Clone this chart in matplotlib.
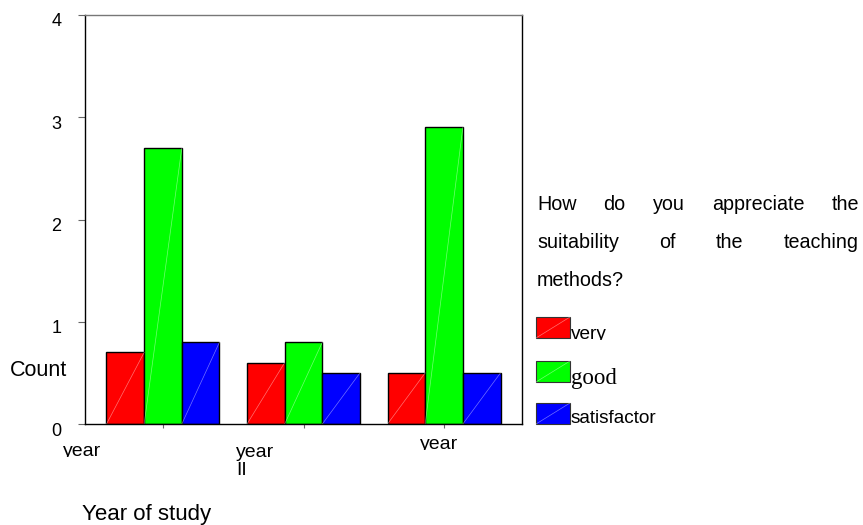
import matplotlib
matplotlib.use("Agg")
import matplotlib.pyplot as plt
import numpy as np
from matplotlib.patches import Rectangle
from matplotlib.transforms import Bbox, ScaledTranslation

# Counts per year of study and rating
groups = ["year\nI", "year\nII", "year\nIII"]
ratings = ["very", "good", "satisfactor"]
very_vals = [0.7, 0.6, 0.5]
good_vals = [2.7, 0.8, 2.9]
satisf_vals = [0.8, 0.5, 0.5]
colors = ["#ff0000", "#00ff00", "#0000ff"]
yticks = [0, 1, 2, 3, 4]
question = "How do you appreciate the suitability of the teaching methods?"

W, H = 863, 525
fig = plt.figure(figsize=(W / 100, H / 100), dpi=100)
ax = fig.add_axes([85 / W, 1 - 424 / H, (522 - 85) / W, (424 - 15) / H])

x = np.arange(len(groups))
bw = 0.268
series = [very_vals, good_vals, satisf_vals]
for i, vals in enumerate(series):
    xs = x + (i - 1) * bw
    ax.bar(xs, vals, width=bw, color=colors[i], edgecolor="black", linewidth=1.0, zorder=2)
    for xc, v in zip(xs, vals):
        ax.plot([xc - bw / 2, xc + bw / 2], [0, v], color="white", lw=0.5, alpha=0.45, zorder=3)

ax.set_xlim(-0.555, 2.555)
ax.set_ylim(0, 4)
ax.set_yticks(yticks)
ax.set_yticklabels([str(t) for t in yticks], fontsize=13, family="Liberation Sans")
ax.tick_params(axis="y", direction="out", length=5, color="#666666", pad=12)
shift = ScaledTranslation(0, -5 / 100, fig.dpi_scale_trans)
for lab in ax.get_yticklabels():
    lab.set_transform(lab.get_transform() + shift)
ax.set_xticks(x)
ax.set_xticklabels([])
ax.tick_params(axis="x", direction="out", length=3, color="#666666")
for s in ax.spines.values():
    s.set_linewidth(1.0)
ax.spines["top"].set_color("#777777")

fig.canvas.draw()
renderer = fig.canvas.get_renderer()

def clipped_text(px, py, s, size, family="Liberation Sans", clip=None, **kw):
    t = fig.text(px / W, 1 - py / H, s, fontsize=size, family=family, **kw)
    if clip is not None:
        t.set_clip_box(Bbox.from_extents(clip[0], H - clip[3], clip[2], H - clip[1]))
        t.set_clip_on(True)
    return t

# Category labels beneath the axis, each line cut off by its cell
label_x = [63, 236, 420]
label_base = [456, 457, 449]
label_clip = [457, 476, 450]
line_step = 18
for name, lx, lb, lc in zip(groups, label_x, label_base, label_clip):
    for k, part in enumerate(name.split("\n")):
        clipped_text(lx, lb + k * line_step, part, 14, va="baseline",
                     clip=(lx - 5, 430, lx + 80, lc))

fig.text(10 / W, 1 - 370 / H, "Count", fontsize=15.5, family="Liberation Sans", va="center")
fig.text(82 / W, 1 - 520 / H, "Year of study", fontsize=16, family="Liberation Sans", va="baseline")

# Justified legend heading
x0, x1 = 537, 859
lines = [["How", "do", "you", "appreciate", "the"],
         ["suitability", "of", "the", "teaching"],
         ["methods?"]]
ys = [205, 243, 281]
for words, yy in zip(lines, ys):
    texts = [fig.text(0, 1 - yy / H, w, fontsize=14.2, family="Liberation Sans", va="center") for w in words]
    widths = [t.get_window_extent(renderer).width for t in texts]
    if len(words) > 1:
        gap = (x1 - x0 - sum(widths)) / (len(words) - 1)
    else:
        gap = 0
    cur = x0
    for t, wd in zip(texts, widths):
        t.set_x(cur / W)
        cur += wd + gap

# Legend swatches
sw_y = [317, 361, 403]
lab_y = [339, 384, 423]
for i, (c, lab) in enumerate(zip(colors, ratings)):
    r = Rectangle((536 / W, 1 - (sw_y[i] + 21) / H), 34 / W, 21 / H, transform=fig.transFigure,
                  facecolor=c, edgecolor="#333333", linewidth=0.8)
    fig.patches.append(r)
    fig.lines.append(plt.Line2D([536 / W, 570 / W], [1 - (sw_y[i] + 21) / H, 1 - sw_y[i] / H],
                                transform=fig.transFigure, color="white", lw=0.5, alpha=0.45))
    fam = "Liberation Serif" if lab == "good" else "Liberation Sans"
    size = 16.5 if lab == "good" else 13.7
    clipped_text(571, lab_y[i], lab, size, family=fam, va="baseline",
                 clip=(560, sw_y[i] - 10, 863, lab_y[i] + (6 if lab == "good" else 1)))

fig.savefig("out.png", dpi=100)
